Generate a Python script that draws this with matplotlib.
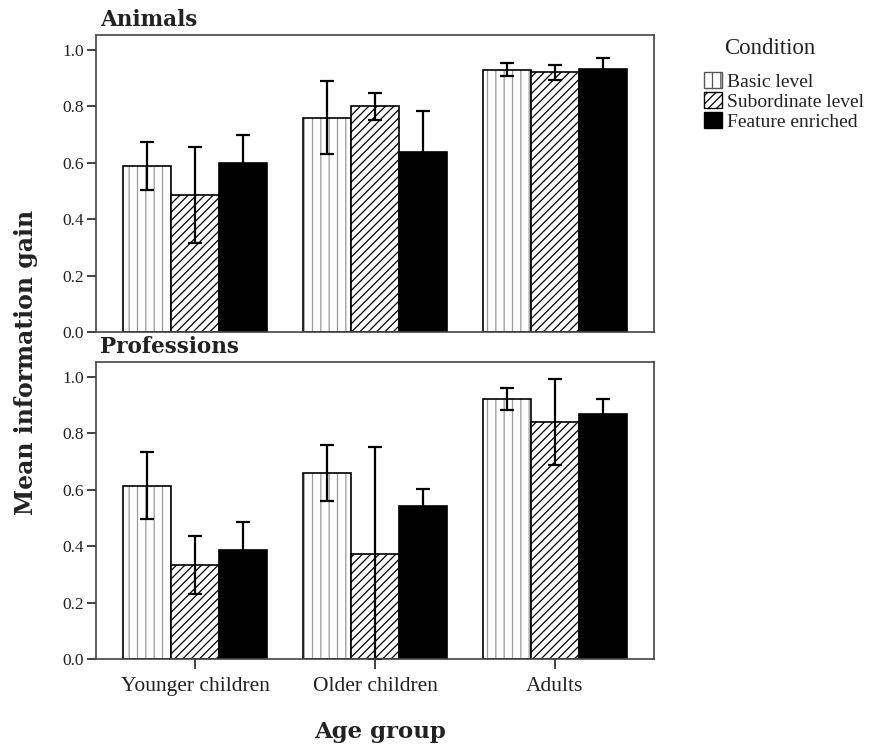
import matplotlib
matplotlib.use("Agg")
import matplotlib.pyplot as plt
import numpy as np
from matplotlib.patches import Patch

plt.rcParams['font.family'] = ['Liberation Serif', 'DejaVu Serif']
plt.rcParams['hatch.linewidth'] = 0.9

groups = ["Younger children", "Older children", "Adults"]
conditions = ["Basic level", "Subordinate level", "Feature enriched"]

# Animals panel: means and error half-widths
animals_mean = {
    "Basic level": [0.59, 0.76, 0.93],
    "Subordinate level": [0.485, 0.80, 0.92],
    "Feature enriched": [0.60, 0.637, 0.932],
}
animals_err = {
    "Basic level": [0.085, 0.13, 0.024],
    "Subordinate level": [0.17, 0.048, 0.025],
    "Feature enriched": [0.10, 0.145, 0.038],
}

# Professions panel
prof_mean = {
    "Basic level": [0.615, 0.659, 0.922],
    "Subordinate level": [0.332, 0.372, 0.839],
    "Feature enriched": [0.387, 0.544, 0.869],
}
prof_err = {
    "Basic level": [0.12, 0.10, 0.04],
    "Subordinate level": [0.103, 0.381, 0.152],
    "Feature enriched": [0.099, 0.059, 0.054],
}

# fill, hatch colour, hatch pattern per condition
styles = {
    "Basic level": ("white", "#9a9a9a", "||"),
    "Subordinate level": ("white", "black", "////"),
    "Feature enriched": ("black", "black", None),
}

bold = dict(family="DejaVu Serif", fontweight="bold", color="#222222")

fig = plt.figure(figsize=(8.69, 7.45), dpi=100)
ax1 = fig.add_axes([0.1105, 0.5544, 0.642, 0.3987])
ax2 = fig.add_axes([0.1105, 0.1154, 0.642, 0.3987])

x = np.arange(len(groups))
w = 0.267


def draw(ax, means, errs, title):
    for i, c in enumerate(conditions):
        pos = x + (i - 1) * w
        fc, hc, hatch = styles[c]
        # hatch layer then black outline
        ax.bar(pos, means[c], w, color=fc, edgecolor=hc, hatch=hatch, linewidth=0)
        ax.bar(pos, means[c], w, fill=False, edgecolor="black", linewidth=1.2)
        lower = np.minimum(errs[c], means[c])
        ax.errorbar(pos, means[c], yerr=[lower, errs[c]], fmt="none",
                    ecolor="black", elinewidth=1.6, capsize=5, capthick=1.6)
    ax.set_xlim(-0.55, 2.55)
    ax.set_ylim(0, 1.053)
    ax.set_yticks([0.0, 0.2, 0.4, 0.6, 0.8, 1.0])
    ax.set_yticklabels(["0.0", "0.2", "0.4", "0.6", "0.8", "1.0"])
    ax.tick_params(axis="y", direction="out", length=6.5, width=1.2,
                   labelsize=12.5, pad=2, colors="#222222")
    for s in ax.spines.values():
        s.set_color("#444444")
        s.set_linewidth(1.2)
    ax.text(0.008, 1.012, title, transform=ax.transAxes, ha="left", va="bottom",
            fontsize=15.5, **bold)


draw(ax1, animals_mean, animals_err, "Animals")
draw(ax2, prof_mean, prof_err, "Professions")

ax1.set_xticks([])
ax2.set_xticks(x)
ax2.set_xticklabels(groups)
ax2.tick_params(axis="x", direction="out", length=7, width=1.2,
                labelsize=15.5, pad=6, colors="#222222")

fig.text(0.03, 0.514, "Mean information gain", rotation=90, va="center",
         ha="center", fontsize=17, **bold)
fig.text(0.437, 0.017, "Age group", ha="center", va="center",
         fontsize=16.5, **bold)

handles = []
for c in conditions:
    fc, hc, hatch = styles[c]
    handles.append(Patch(facecolor=fc, edgecolor="black" if hatch != "||" else "#555555",
                         hatch=hatch, linewidth=1))
fig.text(0.886, 0.935, "Condition", ha="center", va="center",
         fontsize=16.5, color="#222222")
fig.legend(handles, conditions, loc="upper left",
           bbox_to_anchor=(0.81, 0.904), frameon=False, fontsize=14,
           handlelength=0.95, handleheight=0.95,
           handletextpad=0.25, labelspacing=0.05, borderaxespad=0,
           borderpad=0, labelcolor="#222222")

fig.savefig("out.png", dpi=100)
